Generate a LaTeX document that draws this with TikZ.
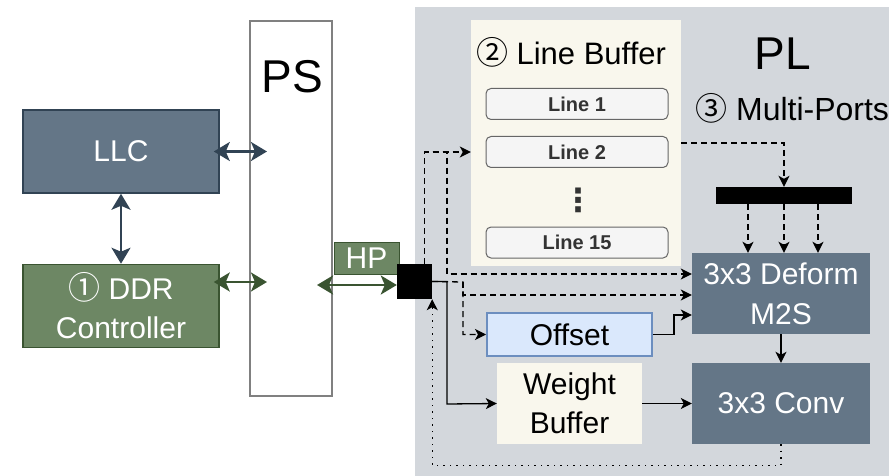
\documentclass[tikz,border=0pt]{standalone}
\usepackage{fontspec}
\setmainfont{Liberation Sans}
\newfontfamily\circfont{Noto Sans CJK SC}
\newfontfamily\symfont{DejaVu Sans}
\newcommand\circnum[1]{{\circfont\fontsize{32}{36}\selectfont #1}}
\usetikzlibrary{arrows.meta,calc}
\definecolor{slate}{HTML}{647687}
\definecolor{slateline}{HTML}{314354}
\definecolor{moss}{HTML}{6D8764}
\definecolor{mossline}{HTML}{3A5431}
\definecolor{cream}{HTML}{F9F7ED}
\definecolor{plgray}{HTML}{D3D7DC}
\definecolor{offfill}{HTML}{DAE8FC}
\definecolor{offline}{HTML}{6C8EBF}
\definecolor{linefill}{HTML}{F5F5F5}
\definecolor{linegray}{HTML}{666666}
\definecolor{textgray}{HTML}{333333}

\begin{document}
\begin{tikzpicture}[x=1pt,y=-1pt,
  darkbox/.style={draw=slateline,line width=1.5pt,fill=slate,text=white,align=center,inner sep=0pt,
    minimum width=196pt,minimum height=83pt,font=\fontsize{30}{39}\selectfont},
  greenbox/.style={darkbox,draw=mossline,fill=moss},
  unit/.style={fill=slate,text=white,align=center,inner sep=0pt,minimum width=178pt,minimum height=81pt,
    font=\fontsize{30}{40}\selectfont},
  linebox/.style={draw=linegray,line width=1pt,fill=linefill,rounded corners=5pt,minimum width=182pt,
    minimum height=31pt,inner sep=0pt,text=textgray,font=\fontsize{20}{24}\selectfont\bfseries},
  title/.style={anchor=base,inner sep=0pt,font=\fontsize{46}{50}\selectfont},
  bigarr/.style={line width=2.6pt,{Stealth[length=16pt,width=19pt,inset=4pt]}-{Stealth[length=16pt,width=19pt,inset=4pt]}},
  arr/.style={line width=1.3pt,-{Stealth[length=11pt,width=11pt,inset=3pt]}},
  dsh/.style={arr,dash pattern=on 6pt off 4pt},
  dot/.style={arr,dash pattern=on 1.5pt off 5pt}]
  \path[fill=white,use as bounding box] (0,0) rectangle (889,476);
  % PL side
  \node[fill=plgray,inner sep=0pt,minimum width=474pt,minimum height=469pt] (PL) at (652,241.5) {};
  \node[title] (pltitle) at (783,70) {PL};
  \node[fill=cream,inner sep=0pt,minimum width=210pt,minimum height=246pt] (LB) at (576,143) {};
  \node[anchor=base,inner sep=0pt,font=\fontsize{31}{36}\selectfont] (lbtitle) at (571,65) {\circnum{②} Line Buffer};
  \node[linebox] (L1) at (577,104) {Line 1};
  \node[linebox] (L2) at (577,152) {Line 2};
  \node[inner sep=0pt,text=textgray,font=\fontsize{32}{34}\selectfont\bfseries\symfont] (vd) at (578,200) {⋮};
  \node[linebox] (L15) at (577,242.5) {Line 15};
  \node[anchor=base west,inner sep=0pt,font=\fontsize{32}{36}\selectfont] (mptitle) at (695,121) {\circnum{③} Multi-Ports};
  \node[fill=black,inner sep=0pt,minimum width=136pt,minimum height=17pt] (bar) at (784,195.5) {};
  \node[unit] (Def) at (781,293.5) {3x3 Deform\\M2S};
  \node[unit] (Conv) at (781,403.5) {3x3 Conv};
  \node[fill=cream,align=center,inner sep=0pt,minimum width=145pt,minimum height=81pt,
    font=\fontsize{30}{39}\selectfont] (WB) at (569.5,403.5) {Weight\\Buffer};
  \node[draw=offline,line width=2pt,fill=offfill,inner sep=0pt,minimum width=165pt,minimum height=43pt,
    font=\fontsize{30}{36}\selectfont] (Off) at (569.5,334.5) {Offset};
  % PS side
  \node[draw=gray,line width=2.5pt,fill=white,inner sep=0pt,minimum width=82pt,minimum height=375pt] (PS) at (291,208.5) {};
  \node[title] (pstitle) at (292,93) {PS};
  \node[darkbox] (LLC) at (121,151.5) {LLC};
  \node[greenbox] (DDR) at (121,306) {\circnum{①} DDR\\Controller};
  \node[fill=moss,draw=mossline,line width=1pt,text=white,inner sep=0pt,minimum width=65pt,minimum height=32pt,
    font=\fontsize{30}{34}\selectfont] (HP) at (366.5,258) {HP};
  \node[fill=black,inner sep=0pt,minimum size=35pt] (sq) at (414.5,281.5) {};
  \coordinate (psllc) at (267,151.5);
  \coordinate (psddr) at (267,282);
  \coordinate (hpend) at (317,285);
  \coordinate (j1) at (447,152);
  \coordinate (j2) at (463,282);
  \coordinate (j3) at (674,334.5);
  \coordinate (j4) at (447,404);
  % connectors
  \draw[bigarr,slateline,shorten <=-6pt] (LLC.east) -- (psllc);
  \draw[bigarr,slateline] (LLC.south) -- (DDR.north);
  \draw[bigarr,mossline,shorten <=-6pt] (DDR.east |- psddr) -- (psddr);
  \draw[bigarr,mossline] (hpend) -- (hpend -| sq.west);
  \draw[dsh] ([xshift=10pt]sq.north) |- (LB.west |- L2);
  \draw[dsh] ([xshift=10pt]sq.north) |- (j1) |- ([yshift=19.5pt]Def.west);
  \draw[dsh] (sq.east) -- (j2) |- (Off.west);
  \draw[dsh] (j2) |- ([yshift=-1.5pt]Def.west);
  \draw[arr] (Off.east) -- (j3) |- ([yshift=-21.5pt]Def.west);
  \draw[arr] (sq.east) -| (j4) -- (WB.west);
  \draw[arr] (WB.east) -- (Conv.west);
  \draw[arr] (Def.south) -- (Conv.north);
  \draw[dsh] (LB.east) -| (bar.north);
  \foreach \dx in {-36,0,34}
    \draw[dsh] ([xshift=\dx pt]bar.south) -- ([xshift=\dx pt]bar.south |- Def.north);
  \draw[dot] (Conv.south) -- ++(0,21) -| (sq.south east);
\end{tikzpicture}
\end{document}
